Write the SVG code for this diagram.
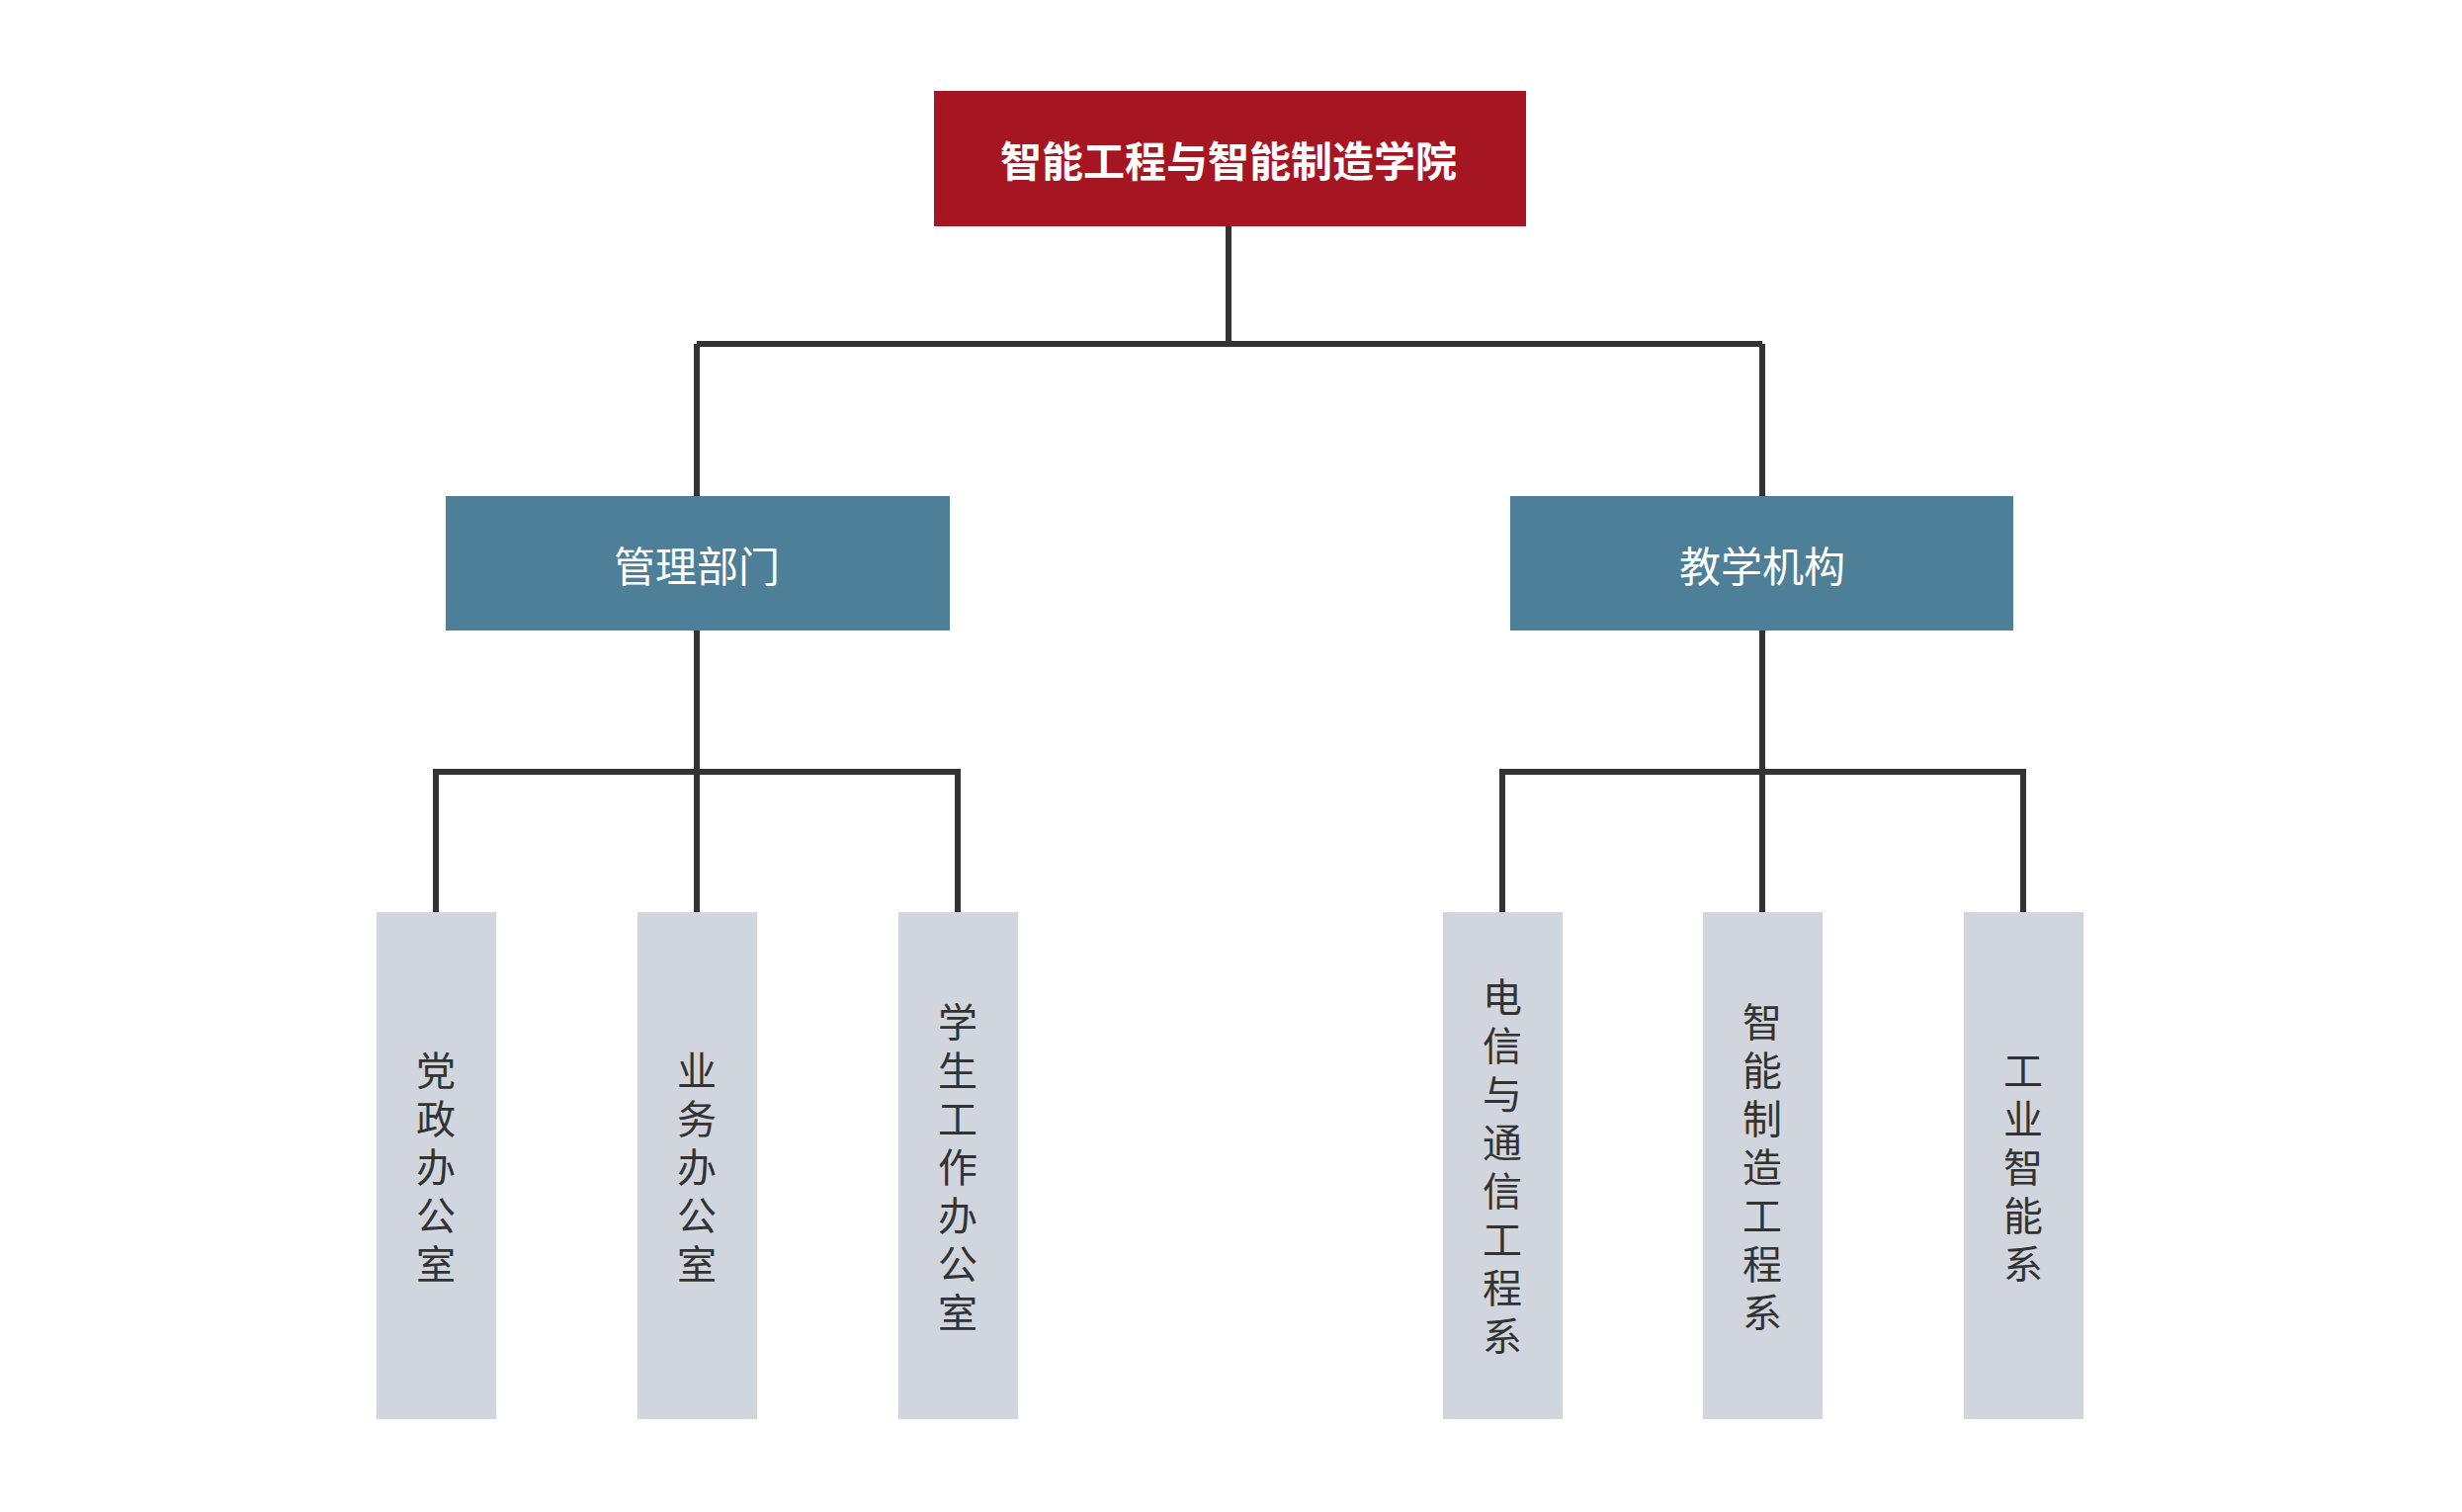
<svg xmlns="http://www.w3.org/2000/svg" width="2491" height="1530" viewBox="0 0 2491 1530">
<style>
.c{fill:none;stroke:#333;stroke-width:6}
.t{font-family:"Noto Sans CJK SC","Noto Sans",sans-serif;text-anchor:middle;dominant-baseline:central}
.top{fill:#fff;font-size:42px;font-weight:bold}
.mid{fill:#fff;font-size:42px}
.leaf{fill:#333;font-size:40px}
</style>
<rect width="2491" height="1530" fill="#fff"/>
<g id="connectors">
<path class="c" d="M1243 229V348M705 348H1783M705 348V502M1783 348V502"/>
<path class="c" d="M705 638V923M441 923V781H969V923"/>
<path class="c" d="M1783 638V923M1520 923V781H2047V923"/>
</g>
<g id="root"><rect x="945" y="92" width="599" height="137" fill="#A51622"/><text class="t top" x="1243" y="160">智能工程与智能制造学院</text></g>
<g id="mgmt"><rect x="451" y="502" width="510" height="136" fill="#4D7F98"/><text class="t mid" x="705" y="570">管理部门</text></g>
<g id="teach"><rect x="1528" y="502" width="509" height="136" fill="#4D7F98"/><text class="t mid" x="1783" y="570">教学机构</text></g>
<g id="l1"><rect x="381" y="923" width="121" height="513" fill="#D0D5DE"/>
<text class="t leaf" x="441" y="1081">党</text><text class="t leaf" x="441" y="1130">政</text><text class="t leaf" x="441" y="1179">办</text><text class="t leaf" x="441" y="1228">公</text><text class="t leaf" x="441" y="1277">室</text></g>
<g id="l2"><rect x="645" y="923" width="121" height="513" fill="#D0D5DE"/>
<text class="t leaf" x="705" y="1081">业</text><text class="t leaf" x="705" y="1130">务</text><text class="t leaf" x="705" y="1179">办</text><text class="t leaf" x="705" y="1228">公</text><text class="t leaf" x="705" y="1277">室</text></g>
<g id="l3"><rect x="909" y="923" width="121" height="513" fill="#D0D5DE"/>
<text class="t leaf" x="969" y="1032">学</text><text class="t leaf" x="969" y="1081">生</text><text class="t leaf" x="969" y="1130">工</text><text class="t leaf" x="969" y="1179">作</text><text class="t leaf" x="969" y="1228">办</text><text class="t leaf" x="969" y="1277">公</text><text class="t leaf" x="969" y="1326">室</text></g>
<g id="l4"><rect x="1460" y="923" width="121" height="513" fill="#D0D5DE"/>
<text class="t leaf" x="1520" y="1007">电</text><text class="t leaf" x="1520" y="1056">信</text><text class="t leaf" x="1520" y="1105">与</text><text class="t leaf" x="1520" y="1154">通</text><text class="t leaf" x="1520" y="1203">信</text><text class="t leaf" x="1520" y="1252">工</text><text class="t leaf" x="1520" y="1301">程</text><text class="t leaf" x="1520" y="1350">系</text></g>
<g id="l5"><rect x="1723" y="923" width="121" height="513" fill="#D0D5DE"/>
<text class="t leaf" x="1783" y="1032">智</text><text class="t leaf" x="1783" y="1081">能</text><text class="t leaf" x="1783" y="1130">制</text><text class="t leaf" x="1783" y="1179">造</text><text class="t leaf" x="1783" y="1228">工</text><text class="t leaf" x="1783" y="1277">程</text><text class="t leaf" x="1783" y="1326">系</text></g>
<g id="l6"><rect x="1987" y="923" width="121" height="513" fill="#D0D5DE"/>
<text class="t leaf" x="2047" y="1081">工</text><text class="t leaf" x="2047" y="1130">业</text><text class="t leaf" x="2047" y="1179">智</text><text class="t leaf" x="2047" y="1228">能</text><text class="t leaf" x="2047" y="1277">系</text></g>
</svg>
